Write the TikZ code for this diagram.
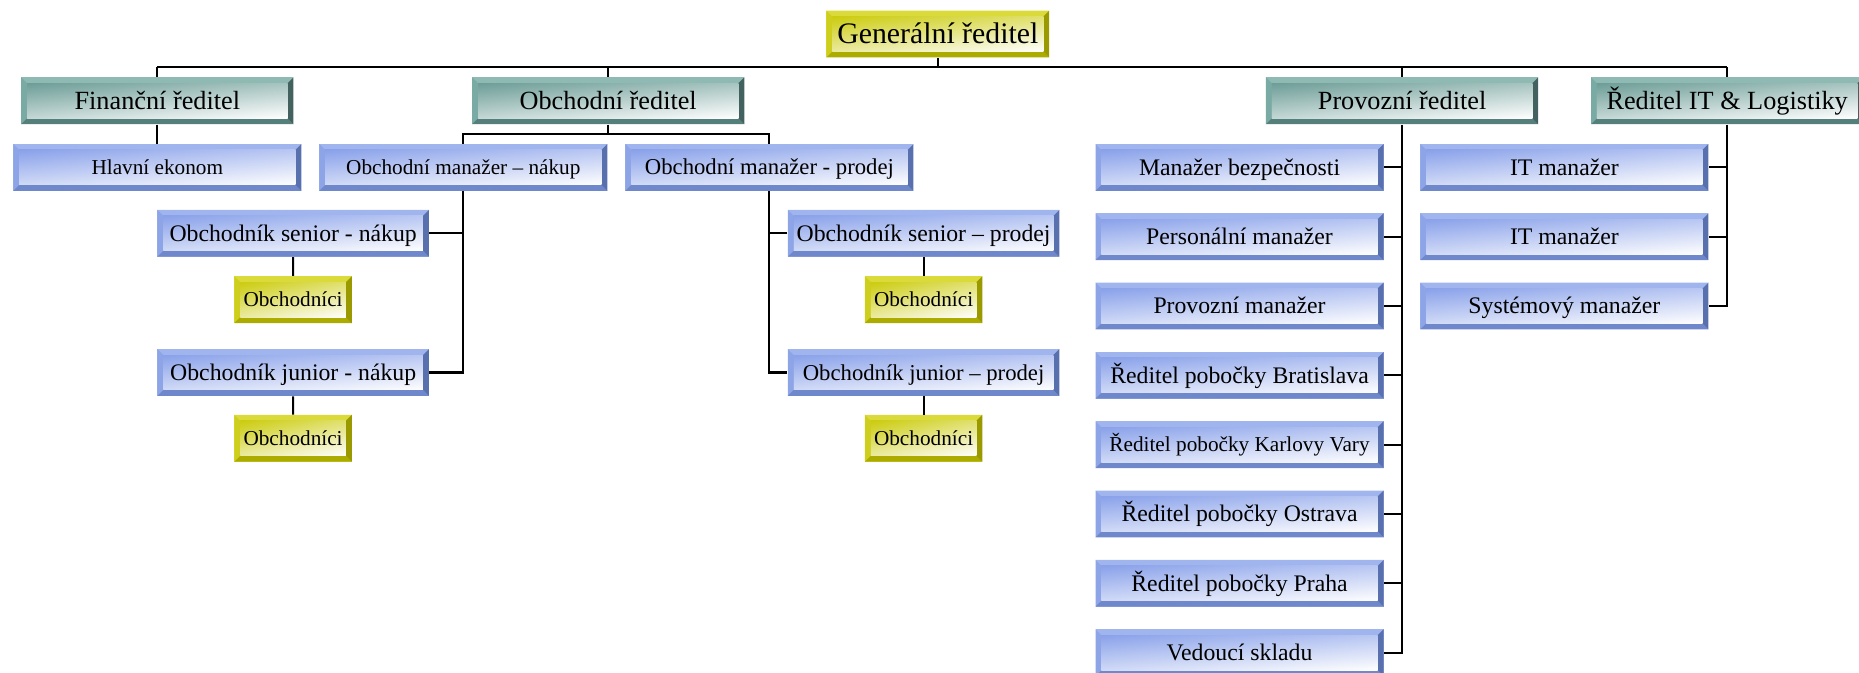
\documentclass[tikz,border=0pt]{standalone}
\usepackage{fontspec}
\setmainfont{Liberation Serif}

\definecolor{tealtop}{HTML}{8FBAB4}
\definecolor{tealleft}{HTML}{7AAAA4}
\definecolor{tealbot}{HTML}{557F7B}
\definecolor{tealright}{HTML}{43625F}
\definecolor{tealface}{HTML}{6E9E98}
\definecolor{bluetop}{HTML}{A0B4EE}
\definecolor{blueleft}{HTML}{8DA4E6}
\definecolor{bluebot}{HTML}{6F87CB}
\definecolor{blueright}{HTML}{5970AF}
\definecolor{blueface}{HTML}{8AA2EA}
\definecolor{yeltop}{HTML}{DADA3A}
\definecolor{yelleft}{HTML}{CECE1E}
\definecolor{yelbot}{HTML}{ABAB00}
\definecolor{yelright}{HTML}{9A9A00}
\definecolor{yelface}{HTML}{CCCC10}

\newcommand\bw{0.1cm}

\tikzset{
  bevel/.style n args={5}{fill=#1, path picture={
    \path (path picture bounding box.north west) coordinate (bNW) ++(\bw,-\bw) coordinate (bnw)
          (path picture bounding box.north east) coordinate (bNE) ++(-\bw,-\bw) coordinate (bne)
          (path picture bounding box.south east) coordinate (bSE) ++(-\bw,\bw) coordinate (bse)
          (path picture bounding box.south west) coordinate (bSW) ++(\bw,\bw) coordinate (bsw);
    \fill[#1] (bNW) -- (bNE) -- (bne) -- (bnw) -- cycle;
    \fill[#2] (bNW) -- (bnw) -- (bsw) -- (bSW) -- cycle;
    \fill[#3] (bSW) -- (bsw) -- (bse) -- (bSE) -- cycle;
    \fill[#4] (bNE) -- (bSE) -- (bse) -- (bne) -- cycle;
    \shade[top color=#5, middle color=#5!22!white, bottom color=white] (bnw) rectangle (bse);
    \shade[left color=#5, right color=white, fill opacity=0.4] (bnw) rectangle (bse);
  }},
  unit/.style={rectangle, inner sep=0pt, minimum height=0.788cm, text depth=0pt},
  gen/.style={unit, bevel={yeltop}{yelleft}{yelbot}{yelright}{yelface}, minimum width=3.76cm,
    font=\fontsize{14.3pt}{17pt}\selectfont, text height=9.5pt},
  dir/.style={unit, bevel={tealtop}{tealleft}{tealbot}{tealright}{tealface}, minimum width=4.594cm,
    minimum height=0.792cm, font=\fontsize{12.6pt}{15pt}\selectfont, text height=8.3pt},
  dept/.style={unit, bevel={bluetop}{blueleft}{bluebot}{blueright}{blueface}, minimum width=4.86cm,
    font=\fontsize{11.4pt}{13.5pt}\selectfont, text height=7.5pt},
  narrow/.style={minimum width=4.58cm},
  small/.style={font=\fontsize{10.2pt}{12pt}\selectfont, text height=6.7pt},
  mid/.style={font=\fontsize{10.9pt}{13pt}\selectfont, text height=7.2pt},
  staff/.style={unit, bevel={yeltop}{yelleft}{yelbot}{yelright}{yelface}, minimum width=1.98cm,
    font=\fontsize{10.2pt}{12pt}\selectfont, text height=6.7pt},
  link/.style={line width=1pt}
}

\begin{document}
\begin{tikzpicture}[x=0.02cm,y=-0.02cm]
\useasboundingbox (0,0) rectangle (1568,567);

% top
\node[gen] (gen) at (791,28.7) {Generální ředitel};

% directors
\node[dir] (fin) at (132.7,85) {Finanční ředitel};
\node[dir] (obch) at (513,85) {Obchodní ředitel};
\node[dir] (prov) at (1182.6,85) {Provozní ředitel};
\node[dir] (it) at (1456.8,85) {Ředitel IT \& Logistiky};

% finance + trade
\node[dept,small] (ekon) at (132.7,141.2) {Hlavní ekonom};
\node[dept,small] (mnak) at (390.8,141.2) {Obchodní manažer – nákup};
\node[dept,mid] (mprod) at (649,141.2) {Obchodní manažer - prodej};

\node[dept,narrow] (snak) at (247.3,196.8) {Obchodník senior - nákup};
\node[staff] (onak1) at (247.2,252.8) {Obchodníci};
\node[dept,narrow] (jnak) at (247.3,314.2) {Obchodník junior - nákup};
\node[staff] (onak2) at (247.2,369.7) {Obchodníci};

\node[dept,narrow] (sprod) at (779,196.8) {Obchodník senior – prodej};
\node[staff] (oprod1) at (779,252.8) {Obchodníci};
\node[dept,narrow,mid] (jprod) at (779,314.2) {Obchodník junior – prodej};
\node[staff] (oprod2) at (779,369.7) {Obchodníci};

% operations
\node[dept] (r1) at (1045.5,141.2) {Manažer bezpečnosti};
\node[dept] (r2) at (1045.5,199.7) {Personální manažer};
\node[dept] (r3) at (1045.5,258.1) {Provozní manažer};
\node[dept] (r4) at (1045.5,316.6) {Ředitel pobočky Bratislava};
\node[dept,small] (r5) at (1045.5,375.1) {Ředitel pobočky Karlovy Vary};
\node[dept] (r6) at (1045.5,433.5) {Ředitel pobočky Ostrava};
\node[dept] (r7) at (1045.5,492.0) {Ředitel pobočky Praha};
\node[dept] (r8) at (1045.5,550.5) {Vedoucí skladu};

% IT
\node[dept] (t1) at (1319.5,141.2) {IT manažer};
\node[dept] (t2) at (1319.5,199.7) {IT manažer};
\node[dept] (t3) at (1319.5,258.1) {Systémový manažer};

% lines
\coordinate (bus) at (0,56.2);
\coordinate (obus) at (0,112.8);
\draw[link] (gen.south) -- (gen.south |- bus);
\draw[link] (fin.north |- bus) -- (it.north |- bus);
\foreach \n in {fin,obch,prov,it}
  \draw[link] (\n.north) -- (\n.north |- bus);

\draw[link] (fin.south) -- (ekon.north);
\draw[link] (obch.south) -- (obch.south |- obus);
\draw[link] (mnak.north) -- (mnak.north |- obus) -- (mprod.north |- obus) -- (mprod.north);

\draw[link] (mnak.south) |- (jnak.east);
\draw[link] (snak.east) -- (snak.east -| mnak.south);
\draw[link] (snak.south) -- (onak1.north);
\draw[link] (jnak.south) -- (onak2.north);

\draw[link] (mprod.south) |- (jprod.west);
\draw[link] (sprod.west) -- (sprod.west -| mprod.south);
\draw[link] (sprod.south) -- (oprod1.north);
\draw[link] (jprod.south) -- (oprod2.north);

\draw[link] (prov.south) |- (r8.east);
\foreach \i in {1,...,7}
  \draw[link] (r\i.east) -- (r\i.east -| prov.south);

\draw[link] (it.south) |- (t3.east);
\foreach \i in {1,2}
  \draw[link] (t\i.east) -- (t\i.east -| it.south);
\end{tikzpicture}
\end{document}
